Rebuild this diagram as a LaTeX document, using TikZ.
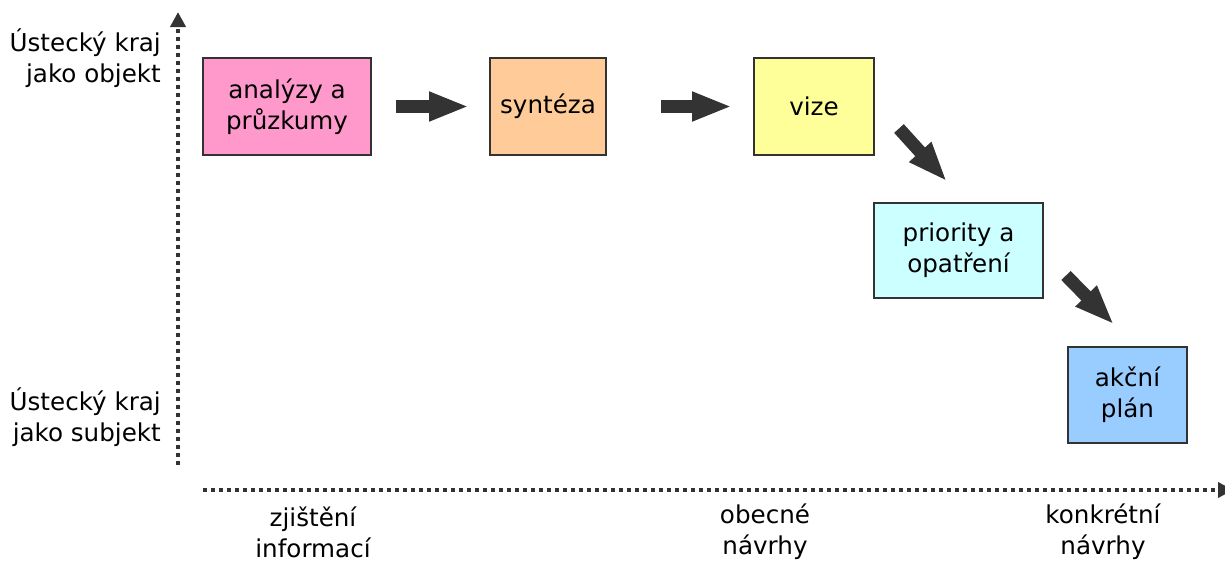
\documentclass[tikz,border=0pt]{standalone}
\usepackage{fontspec}
\setmainfont{DejaVu Sans}
\usetikzlibrary{arrows.meta}
\usetikzlibrary{calc}

\definecolor{anapink}{HTML}{FF99CC}
\definecolor{synorange}{HTML}{FFCC99}
\definecolor{vizeyellow}{HTML}{FFFF99}
\definecolor{pricyan}{HTML}{CCFFFF}
\definecolor{planblue}{HTML}{99CCFF}
\definecolor{arrowgrey}{HTML}{333333}

\tikzset{
    stage/.style={draw=black!80, line width=0.04cm, align=center, inner sep=0pt,
        minimum height=1.94cm, font=\fontsize{14}{17.5}\selectfont},
    fat/.style={-{Triangle[length=0.8cm,width=0.54cm]}, line width=0.26cm, draw=arrowgrey},
    axis/.style={-{Triangle[length=0.3cm,width=0.3cm]}, line width=0.08cm,
        dash pattern=on 0.08cm off 0.08cm, draw=arrowgrey},
    axistext/.style={align=center, font=\fontsize{14}{17.5}\selectfont}
}

\begin{document}
\begin{tikzpicture}[x=0.02cm, y=-0.02cm]

    \useasboundingbox (0,0) rectangle (1225,562);
    \clip (0,0) rectangle (1225,562);

    % axes
    \coordinate (ybot) at (178,465);
    \coordinate (ytop) at (178,12);
    \coordinate (xleft) at (203,490);
    \coordinate (xright) at (1233,490);
    \draw[axis] (ybot) -- (ytop);
    \draw[axis] (xleft) -- (xright);

    % stages
    \node[stage, fill=anapink, minimum width=3.38cm] (ana) at (287,106.5) {analýzy a\\průzkumy};
    \node[stage, fill=synorange, minimum width=2.32cm] (syn) at (548,106.5) {syntéza};
    \node[stage, fill=vizeyellow, minimum width=2.4cm] (vize) at (814,106.5) {vize};
    \node[stage, fill=pricyan, minimum width=3.38cm, minimum height=1.9cm] (pri) at (958.5,250.5) {priority a\\opatření};
    \node[stage, fill=planblue, minimum width=2.38cm, minimum height=1.92cm] (plan) at (1127.5,395) {akční\\plán};

    % fat arrows
    \draw[fat, shorten <=0.48cm, shorten >=0.4cm] (ana) -- (syn);
    \draw[fat, shorten <=1.08cm, shorten >=0.42cm] (syn) -- (vize);
    \draw[fat] ($(vize.east)+(24,22)$) -- ($(vize.east)+(72,75)$);
    \draw[fat] ($(pri.east)+(22,25)$) -- ($(pri.east)+(70,74)$);

    % axis labels
    \node[axistext, align=right, anchor=east] (obj) at (167,58) {Ústecký kraj\\jako objekt};
    \node[axistext, align=right, anchor=east] (subj) at (167,417) {Ústecký kraj\\jako subjekt};
    \node[axistext] (zjist) at (313,532) {zjištění\\informací};
    \node[axistext] (obec) at (765,532) {obecné\\návrhy};
    \node[axistext] (konk) at (1103,532) {konkrétní\\návrhy};

\end{tikzpicture}
\end{document}
